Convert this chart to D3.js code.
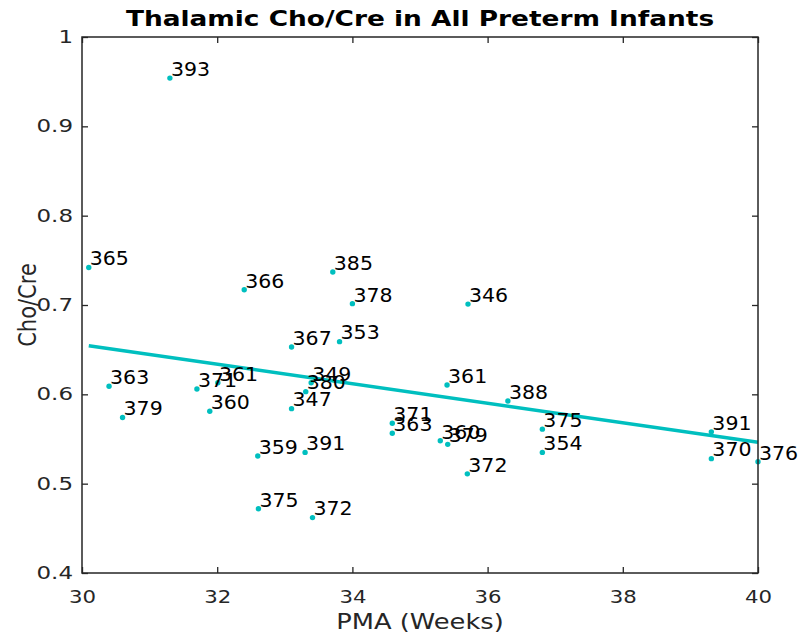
<!DOCTYPE html>
<html>
<head>
<meta charset="utf-8">
<script src="https://cdn.jsdelivr.net/npm/d3@7"></script>
<style>
  body { margin: 0; background: #fff; }
  text { font-family: "DejaVu Sans", sans-serif; }
</style>
</head>
<body>
<svg id="chart"></svg>
<script>
// data
var pma = [31.30, 30.10, 32.40, 33.71, 34.00, 35.71, 33.10, 33.81, 30.40, 31.70,
           32.01, 31.89, 30.60, 33.39, 33.31, 33.10, 32.60, 33.30, 32.61, 33.41,
           35.40, 36.30, 34.59, 34.59, 35.30, 35.41, 35.70, 36.81, 36.81, 39.31,
           39.31, 40.00];
var choCre = [0.954, 0.742, 0.717, 0.737, 0.7015, 0.701, 0.653, 0.659, 0.609, 0.606,
              0.613, 0.581, 0.574, 0.613, 0.603, 0.584, 0.531, 0.535, 0.472, 0.462,
              0.6105, 0.5925, 0.5676, 0.5564, 0.548, 0.544, 0.511, 0.561, 0.535, 0.558,
              0.528, 0.5246];
var ids = ["393", "365", "366", "385", "378", "346", "367", "353", "363", "371",
           "361", "360", "379", "349", "380", "347", "359", "391", "375", "372",
           "361", "388", "371", "363", "360", "379", "372", "375", "354", "391",
           "370", "376"];

// fitted line end points
var fitX = [30.1, 40];
var fitY = [0.6545, 0.5463];

var xTicks = [30, 32, 34, 36, 38, 40];
var yTicks = [0.4, 0.5, 0.6, 0.7, 0.8, 0.9, 1];

var W = 801, H = 636;
var margin = {top: 37, right: 43, bottom: 63, left: 82},
  width = W - margin.left - margin.right,
  height = H - margin.top - margin.bottom;

var teal = "#00bfbf", axisCol = "#262626";
// the reference text looks a bit wider than plain DejaVu
var stretch = 1.25;

var svg = d3.select("#chart")
  .attr("width", W)
  .attr("height", H);

var g = svg.append("g")
  .attr("transform", "translate(" + margin.left + "," + margin.top + ")");

var x = d3.scaleLinear().domain([30, 40]).range([0, width]);
var y = d3.scaleLinear().domain([0.4, 1]).range([height, 0]);

// fit line
g.append("line")
  .attr("x1", x(fitX[0])).attr("y1", y(fitY[0]))
  .attr("x2", x(fitX[1])).attr("y2", y(fitY[1]))
  .attr("stroke", teal)
  .attr("stroke-width", 3.5);

// points
var pts = pma.map(function(d, i) { return {x: d, y: choCre[i], id: ids[i]}; });

g.selectAll("circle.pt")
  .data(pts)
  .enter()
  .append("circle")
  .attr("class", "pt")
  .attr("cx", d => x(d.x))
  .attr("cy", d => y(d.y))
  .attr("r", 2.7)
  .attr("fill", teal);

g.selectAll("text.lbl")
  .data(pts)
  .enter()
  .append("text")
  .attr("class", "lbl")
  .attr("transform", d => "translate(" + (x(d.x) + 1) + "," + (y(d.y) - 9) + ") scale(1.08,1)")
  .attr("dy", "0.36em")
  .attr("font-size", "19px")
  .attr("fill", "#000")
  .text(d => d.id);

// axes, ticks inward on all four sides
var fmt = d3.format("");
function styleAxis(sel) {
  sel.select(".domain").remove();
  sel.selectAll(".tick line").attr("stroke", axisCol).attr("stroke-width", 1.3);
  sel.selectAll(".tick text").attr("fill", axisCol).attr("font-size", "17px")
    .attr("font-family", "DejaVu Sans, sans-serif");
}

var xAxis = g.append("g")
  .attr("transform", "translate(0," + height + ")")
  .call(d3.axisBottom(x).tickValues(xTicks).tickSize(-6).tickPadding(18).tickFormat(fmt))
  .call(styleAxis);
xAxis.selectAll(".tick text")
  .attr("transform", "scale(" + stretch + ",1)");

g.append("g")
  .call(d3.axisTop(x).tickValues(xTicks).tickSize(-6).tickFormat(""))
  .call(styleAxis);

var yAxis = g.append("g")
  .call(d3.axisLeft(y).tickValues(yTicks).tickSize(-6).tickFormat(fmt))
  .call(styleAxis);
yAxis.selectAll(".tick text")
  .attr("x", 0)
  .attr("transform", "translate(-9,0) scale(1.35,1)");

g.append("g")
  .attr("transform", "translate(" + width + ",0)")
  .call(d3.axisRight(y).tickValues(yTicks).tickSize(-6).tickFormat(""))
  .call(styleAxis);

// box
g.append("rect")
  .attr("width", width)
  .attr("height", height)
  .attr("fill", "none")
  .attr("stroke", axisCol)
  .attr("stroke-width", 1.5);

// titles
svg.append("text")
  .attr("transform", "translate(" + (margin.left + width / 2) + ",26) scale(1.2,1)")
  .attr("text-anchor", "middle")
  .attr("font-size", "22px")
  .attr("font-weight", "bold")
  .attr("fill", "#000")
  .text("Thalamic Cho/Cre in All Preterm Infants");

svg.append("text")
  .attr("transform", "translate(" + (margin.left + width / 2) + ",629) scale(1.17,1)")
  .attr("text-anchor", "middle")
  .attr("font-size", "22px")
  .attr("fill", axisCol)
  .text("PMA (Weeks)");

svg.append("text")
  .attr("transform", "translate(36," + (margin.top + height / 2) + ") rotate(-90) scale(1,1.2)")
  .attr("text-anchor", "middle")
  .attr("font-size", "21px")
  .attr("fill", axisCol)
  .text("Cho/Cre");
</script>
</body>
</html>
